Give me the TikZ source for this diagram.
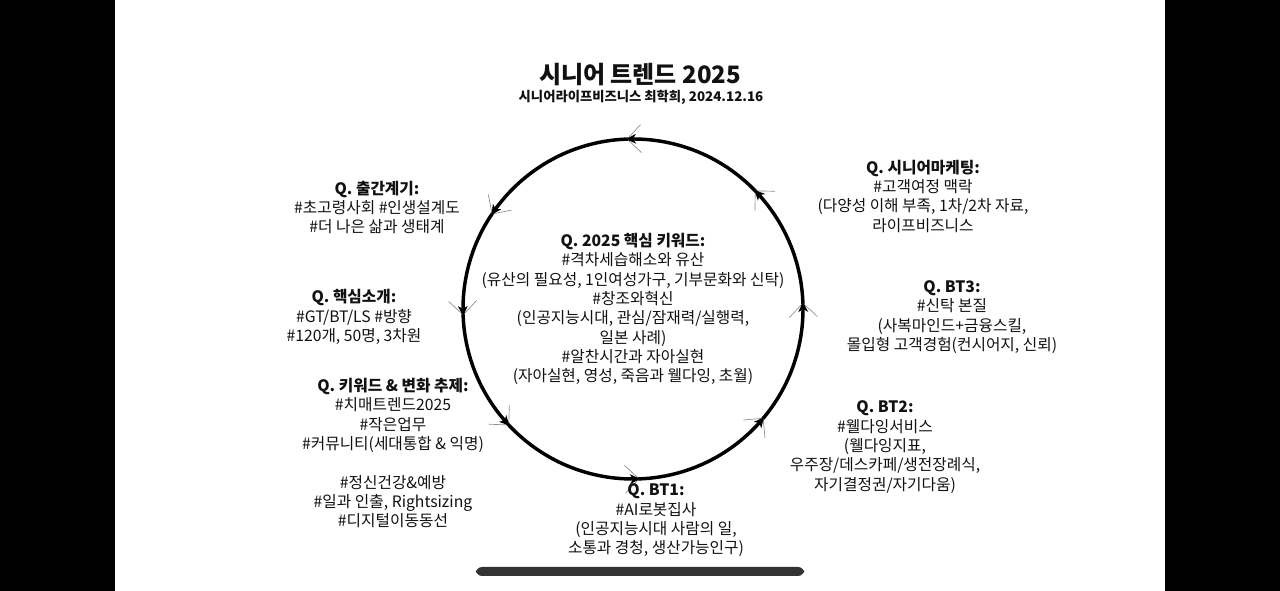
\documentclass[tikz,border=0pt]{standalone}
\usepackage{fontspec}
\setmainfont{Noto Sans CJK KR}
\usetikzlibrary{positioning,calc}
\definecolor{ink}{HTML}{111111}
\definecolor{barbgray}{HTML}{8C8C8C}
\definecolor{slider}{HTML}{333333}

\begin{document}
\begin{tikzpicture}[x=0.75pt,y=0.75pt,
    note/.style={align=center, text=ink, inner sep=0pt,
      font=\fontsize{11.8pt}{14.5pt}\selectfont}]
    \useasboundingbox (0,0) rectangle (1280,591);
    % side bars
    \fill[black] (0,0) rectangle (115,591);
    \fill[black] (1165,0) rectangle (1280,591);

    % title
    \node[text=ink, inner sep=0pt, font=\bfseries\fontsize{18pt}{20pt}\selectfont] (title) at (640,516) {시니어 트렌드 2025};
    \node[text=ink, inner sep=0pt, font=\bfseries\fontsize{10pt}{12pt}\selectfont] (subtitle) at (641,494) {시니어라이프비즈니스 최학희, 2024.12.16};

    % the cycle
    \node[circle, draw=black, line width=2.6pt, minimum size=255pt, inner sep=0pt, outer sep=0pt] (ring) at (633,282) {};
    \foreach \a in {92,44,2,-40,-88,-137,182,146} {
      \begin{scope}[shift={(ring.\a)}, rotate=\a+90]
        \draw[barbgray, line width=0.5pt] (0,0) -- (-14,14) (0,0) -- (-14,-14);
        \fill[black] (1,0) -- (-9,5) -- (-6,0) -- (-9,-5) -- cycle;
      \end{scope}
    }

    % center
    \node[note] (keyword) at (ring.center) {\textbf{Q. 2025 핵심 키워드:}\\
      \#격차세습해소와 유산\\
      (유산의 필요성, 1인여성가구, 기부문화와 신탁)\\
      \#창조와혁신\\
      (인공지능시대, 관심/잠재력/실행력,\\
      일본 사례)\\
      \#알찬시간과 자아실현\\
      (자아실현, 영성, 죽음과 웰다잉, 초월)};

    % left side
    \node[note] (chulgan) at (377,383.5) {\textbf{Q. 출간계기:}\\
      \#초고령사회 \#인생설계도\\
      \#더 나은 삶과 생태계};
    \node[note] (sogae) at (354,274) {\textbf{Q. 핵심소개:}\\
      \#GT/BT/LS \#방향\\
      \#120개, 50명, 3차원};
    \node[note] (byeonhwa) at (393,138) {\textbf{Q. 키워드 \& 변화 추제:}\\
      \#치매트렌드2025\\
      \#작은업무\\
      \#커뮤니티(세대통합 \& 익명)\\[14.5pt]
      \#정신건강\&예방\\
      \#일과 인출, Rightsizing\\
      \#디지털이동동선};

    % right side
    \node[note] (marketing) at (923,395) {\textbf{Q. 시니어마케팅:}\\
      \#고객여정 맥락\\
      (다양성 이해 부족, 1차/2차 자료,\\
      라이프비즈니스};
    \node[note] (btthree) at (952,274) {\textbf{Q. BT3:}\\
      \#신탁 본질\\
      (사복마인드+금융스킬,\\
      몰입형 고객경험(컨시어지, 신뢰)};
    \node[note] (bttwo) at (885,144) {\textbf{Q. BT2:}\\
      \#웰다잉서비스\\
      (웰다잉지표,\\
      우주장/데스카페/생전장례식,\\
      자기결정권/자기다움)};
    \node[note] (btone) at (656,70.5) {\textbf{Q. BT1:}\\
      \#AI로봇집사\\
      (인공지능시대 사람의 일,\\
      소통과 경청, 생산가능인구)};

    % scroll bar
    \fill[slider, rounded corners=4.5] (476,15) rectangle (804,24);
  \end{tikzpicture}
\end{document}
